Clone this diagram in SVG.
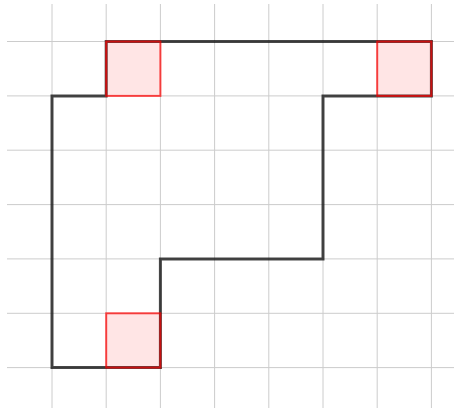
<svg xmlns="http://www.w3.org/2000/svg" width="454" height="412" viewBox="0 0 454 412">
<style>
.grid line{stroke:#cccccc;stroke-width:1}
.cell{fill:#ff0000;fill-opacity:0.1;stroke:#ff0000;stroke-opacity:0.7;stroke-width:2}
.path{fill:none;stroke:#000;stroke-opacity:0.72;stroke-width:3;stroke-linejoin:miter}
</style>
<rect width="454" height="412" fill="#fff"/>
<g class="grid" id="grid">
<line x1="52" y1="4" x2="52" y2="408"/>
<line x1="106.2" y1="4" x2="106.2" y2="408"/>
<line x1="160.4" y1="4" x2="160.4" y2="408"/>
<line x1="214.6" y1="4" x2="214.6" y2="408"/>
<line x1="268.8" y1="4" x2="268.8" y2="408"/>
<line x1="323" y1="4" x2="323" y2="408"/>
<line x1="377.2" y1="4" x2="377.2" y2="408"/>
<line x1="431.4" y1="4" x2="431.4" y2="408"/>
<line x1="7" y1="41.5" x2="454" y2="41.5"/>
<line x1="7" y1="95.9" x2="454" y2="95.9"/>
<line x1="7" y1="150.2" x2="454" y2="150.2"/>
<line x1="7" y1="204.6" x2="454" y2="204.6"/>
<line x1="7" y1="258.9" x2="454" y2="258.9"/>
<line x1="7" y1="313.3" x2="454" y2="313.3"/>
<line x1="7" y1="367.6" x2="454" y2="367.6"/>
</g>
<g id="connectors">
<path class="path" d="M52,95.9 H106.2 V41.5 H431.4 V95.9 H323 V258.9 H160.4 V367.6 H52 Z"/>
</g>
<g id="cell1"><rect class="cell" x="106.2" y="41.5" width="54.2" height="54.4"/></g>
<g id="cell2"><rect class="cell" x="377.2" y="41.5" width="54.2" height="54.4"/></g>
<g id="cell3"><rect class="cell" x="106.2" y="313.3" width="54.2" height="54.3"/></g>
</svg>
